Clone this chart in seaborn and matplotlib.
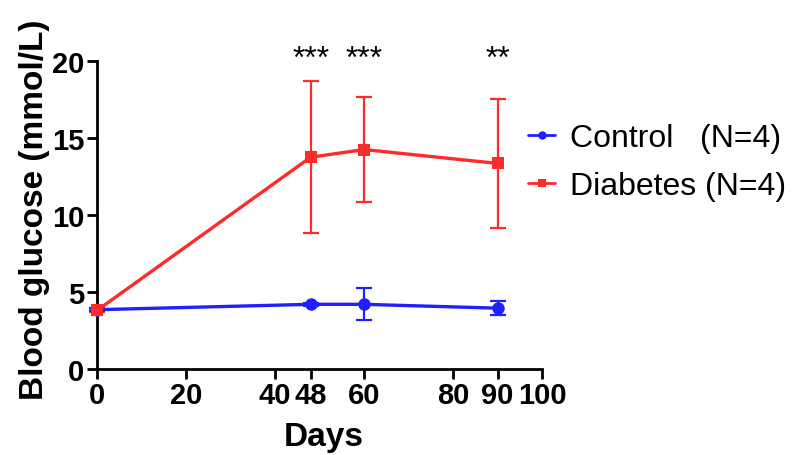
import matplotlib
matplotlib.use("Agg")
import matplotlib.pyplot as plt
import seaborn as sns
import pandas as pd
import numpy as np

days = [0, 48, 60, 90]
control_mean = [3.85, 4.2, 4.2, 3.95]
control_sem = [0.1, 0.1, 1.05, 0.45]
diabetes_mean = [3.8, 13.75, 14.25, 13.35]
diabetes_sem = [0.1, 4.95, 3.4, 4.2]
stars_days = [48, 60, 90]
stars_text = ["***", "***", "**"]
xticks = [0, 20, 40, 48, 60, 80, 90, 100]
yticks = [0, 5, 10, 15, 20]

sns.set_theme(style="ticks")
plt.rcParams['font.family'] = ['Liberation Sans', 'DejaVu Sans']
plt.rcParams['text.color'] = 'black'
plt.rcParams['axes.labelcolor'] = 'black'
plt.rcParams['xtick.color'] = 'black'
plt.rcParams['ytick.color'] = 'black'

df = pd.DataFrame({
    "Days": days * 2,
    "Glucose": control_mean + diabetes_mean,
    "Group": ["Control   (N=4)"] * 4 + ["Diabetes (N=4)"] * 4,
})
palette = {"Control   (N=4)": "#1f1fff", "Diabetes (N=4)": "#ff2a2a"}

W, H = 797, 456
fig = plt.figure(figsize=(W / 100, H / 100), dpi=100)
x0, x1, y0, y1 = 97, 542, 370, 62
ax = fig.add_axes([x0 / W, 1 - y0 / H, (x1 - x0) / W, (y0 - y1) / H])

sns.lineplot(data=df, x="Days", y="Glucose", hue="Group", style="Group",
             markers={"Control   (N=4)": "o", "Diabetes (N=4)": "s"},
             dashes=False, palette=palette, linewidth=2.4, markersize=9,
             markeredgewidth=0, ax=ax, clip_on=False, zorder=3)

ax.errorbar(days, diabetes_mean, yerr=diabetes_sem, fmt="none",
            ecolor=palette["Diabetes (N=4)"], elinewidth=1.6, capsize=6,
            capthick=1.6, clip_on=False, zorder=2)
ax.errorbar(days, control_mean, yerr=control_sem, fmt="none",
            ecolor=palette["Control   (N=4)"], elinewidth=1.6, capsize=6,
            capthick=1.6, clip_on=False, zorder=2)

for d, s in zip(stars_days, stars_text):
    ax.text(d, 19.15, s, ha="center", va="bottom", fontsize=23, color="black")

ax.set_xlim(0, 100)
ax.set_ylim(0, 20)
ax.set_xticks(xticks)
ax.set_xticklabels([str(t) for t in xticks])
ax.set_yticks(yticks)
for lab in ax.get_xticklabels() + ax.get_yticklabels():
    lab.set_fontweight("bold")
    lab.set_fontsize(21)
    lab.set_color("black")
ax.tick_params(axis="both", direction="out", length=7, width=2, color="black", pad=2)
for sp in ["left", "bottom"]:
    ax.spines[sp].set_linewidth(2)
    ax.spines[sp].set_color("black")
sns.despine(ax=ax)

ax.set_xlabel("Days", fontsize=24, fontweight="bold", color="black")
ax.xaxis.set_label_coords(0.51, -0.168)
ax.set_ylabel("Blood glucose (mmol/L)", fontsize=24, fontweight="bold", color="black")
ax.yaxis.set_label_coords(-0.105, 0.52)

leg = ax.legend(loc="upper left", bbox_to_anchor=(528 / W, 1 - 124 / H),
                bbox_transform=fig.transFigure, frameon=False, borderpad=0,
                borderaxespad=0, fontsize=23, handlelength=0.85,
                handletextpad=0.45, labelspacing=0.56, title=None)
for h in leg.legend_handles:
    h.set_markersize(6)
    h.set_linewidth(2)
for t in leg.get_texts():
    t.set_color("black")

fig.savefig("out.png", dpi=100)
